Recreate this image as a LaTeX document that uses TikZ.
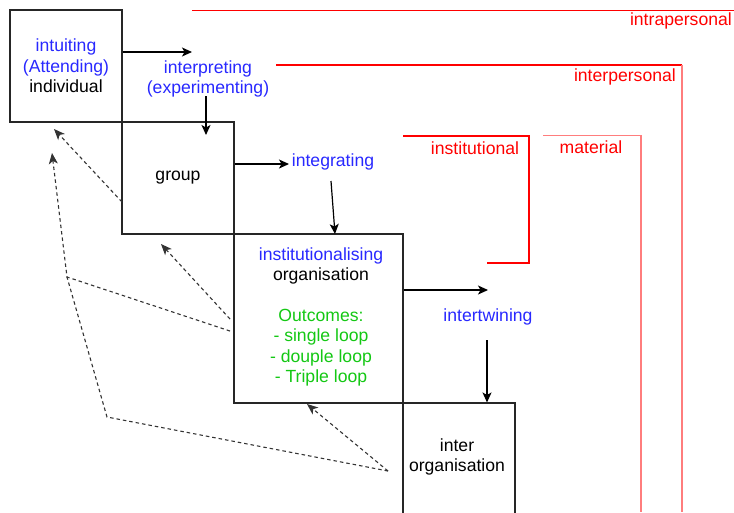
\documentclass[tikz,border=0pt]{standalone}
\usepackage{fontspec}
\setmainfont{Liberation Sans}
\usetikzlibrary{arrows.meta}
\definecolor{tblue}{RGB}{40,40,255}
\definecolor{tgreen}{RGB}{20,200,20}
\definecolor{tred}{RGB}{255,0,0}
\definecolor{tpink}{RGB}{255,125,125}
\newcommand\dfont{\fontsize{17.6}{20.3}\selectfont}
\begin{document}
\begin{tikzpicture}[x=1pt,y=-1pt,
  box/.style={draw=black!85, line width=1.1pt, minimum width=112pt, minimum height=112pt, inner sep=0pt, align=center, font=\dfont},
  txt/.style={inner sep=0pt, align=center, font=\dfont},
  bluetxt/.style={txt, text=tblue},
  redtxt/.style={inner sep=0pt, font=\dfont, text=tred},
  arr/.style={draw=black, line width=1.2pt, -{Stealth[length=10pt,width=9pt,inset=2.5pt]}},
  darr/.style={draw=black!80, line width=1.1pt, dash pattern=on 3.5pt off 3pt, -{Stealth[length=11pt,width=9pt,inset=3pt]}},
  dline/.style={draw=black!80, line width=1.1pt, dash pattern=on 3.5pt off 3pt},
  redl/.style={draw=tred, line width=1.1pt},
  pinkl/.style={draw=tpink, line width=1.6pt}]
\useasboundingbox (0,0) rectangle (734,512);
\fill[white] (0,0) rectangle (734,512);

% red level lines
\draw[redl] (192,10.5) -- (734,10.5);
\node[redtxt, anchor=east] (lintra) at (732,21) {intrapersonal};
\draw[redl] (276,65) -- (682,65);
\draw[pinkl] (682,64.5) -- (682,512);
\node[redtxt, anchor=east] (linter) at (676,77) {interpersonal};
\draw[redl] (403,136) -- (529,136) -- (529,263) -- (487,263);
\node[redtxt] (linst) at (475,148) {institutional};
\draw[pinkl] (543,135.5) -- (641,135.5) -- (641,512);
\node[redtxt] (lmat) at (591,147) {material};

% boxes
\node[box] (ind) at (66,66) {\textcolor{tblue}{intuiting}\\\textcolor{tblue}{(Attending)}\\individual};
\node[box] (grp) at (178,178) {group};
\node[box, minimum width=169pt, minimum height=169pt] (org) at (318.5,318.5) {};
\node[txt] (orgtxt) at (321,317) {\textcolor{tblue}{institutionalising}\\organisation\\[20.3pt]\textcolor{tgreen}{Outcomes:}\\\textcolor{tgreen}{- single loop}\\\textcolor{tgreen}{- douple loop}\\\textcolor{tgreen}{- Triple loop}};
\node[box] (inter) at (459,459) {};
\node[txt] (intertxt) at (457,457) {inter\\organisation};

% process labels
\node[bluetxt] (interp) at (208,79) {interpreting\\(experimenting)};
\node[bluetxt] (integ) at (333,162) {integrating};
\node[bluetxt] (intert) at (488,317) {intertwining};

% solid arrows
\coordinate (a1) at (192,52);
\draw[arr] (ind.east |- a1) -- (a1);
\coordinate (b1) at (206,96);
\coordinate (b2) at (206,135);
\draw[arr] (b1) -- (b2);
\coordinate (c1) at (289,164);
\draw[arr] (grp.east |- c1) -- (c1);
\coordinate (d1) at (331,181);
\coordinate (d2) at (335,234);
\draw[arr] (d1) -- (d2);
\coordinate (e1) at (488,290);
\draw[arr] (org.east |- e1) -- (e1);
\coordinate (f1) at (487,340);
\draw[arr] (f1) -- (f1 |- inter.north);

% dashed feedback arrows
\coordinate (g1) at (122,202);
\coordinate (g2) at (54,129);
\draw[darr] (g1) -- (g2);
\coordinate (h1) at (230,331);
\coordinate (hk) at (67,277);
\coordinate (h2) at (52,153);
\draw[darr] (h1) -- (hk) -- (h2);
\coordinate (i1) at (230,319);
\coordinate (i2) at (161,244);
\draw[darr] (i1) -- (i2);
\coordinate (j1) at (388,471);
\coordinate (jk) at (107,417);
\draw[dline] (j1) -- (jk) -- (hk);
\coordinate (k2) at (307,404);
\draw[darr] (j1) -- (k2);
\end{tikzpicture}
\end{document}
